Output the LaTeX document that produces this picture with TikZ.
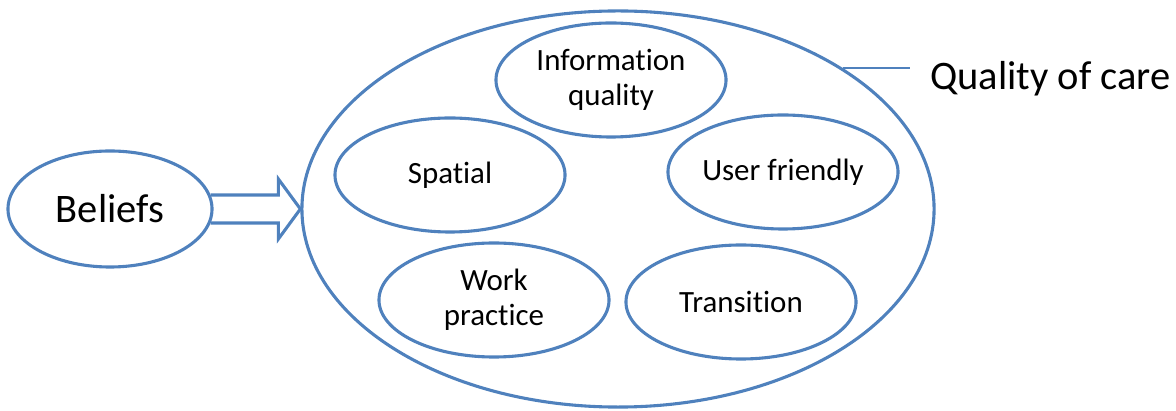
\documentclass[tikz,border=0pt]{standalone}
\usepackage{fontspec}
\setmainfont[Ligatures=NoCommon]{Carlito}
\usetikzlibrary{calc,shapes.geometric}
\definecolor{ovalblue}{RGB}{79,129,189}
\tikzset{
  oval/.style={ellipse, draw=ovalblue, line width=2.2pt, inner sep=0pt},
  smalloval/.style={oval, minimum width=5.75cm, minimum height=2.85cm, align=center,
    font=\fontsize{22}{25}\selectfont},
  bigtext/.style={font=\fontsize{28.8}{32}\selectfont},
  thinlink/.style={draw=ovalblue, line width=1.1pt},
}

\begin{document}
\begin{tikzpicture}[x=0.025cm, y=-0.025cm]
		%%%%% START %%%%%
		\useasboundingbox (0,0) rectangle (1176,411);
		
		\node[oval, minimum width=15.8cm, minimum height=9.9cm] (qoc) at (618,209) {};
		\node[oval, bigtext, minimum width=5.1cm, minimum height=2.9cm] (beliefs) at (110,209) {Beliefs};
		
		\node[smalloval] (info) at (611,80) {Information\\quality};
		\node[smalloval] (spatial) at (450,175) {Spatial};
		\node[smalloval] (friendly) at (783,172) {User friendly};
		\node[smalloval] (work) at (494,300) {Work\\practice};
		\node[smalloval] (transition) at (741,302) {Transition};
		
		% hollow block arrow
		\draw[draw=ovalblue, line width=2.2pt, line join=miter]
			($(beliefs.east)+(-3,-14)$) -- ($(qoc.west)+(-22,-14)$) -- ($(qoc.west)+(-22,-30)$)
			-- (qoc.west) -- ($(qoc.west)+(-22,30)$) -- ($(qoc.west)+(-22,14)$)
			-- ($(beliefs.east)+(-3,14)$);
		
		\node[bigtext, anchor=base west, inner sep=0pt] (qlabel) at (930,90) {Quality of care};
		\draw[thinlink] (qoc.32) -- ($(qoc.32 -| qlabel.west)+(-20,0)$);
		%%%%% END %%%%%
\end{tikzpicture}
\end{document}
